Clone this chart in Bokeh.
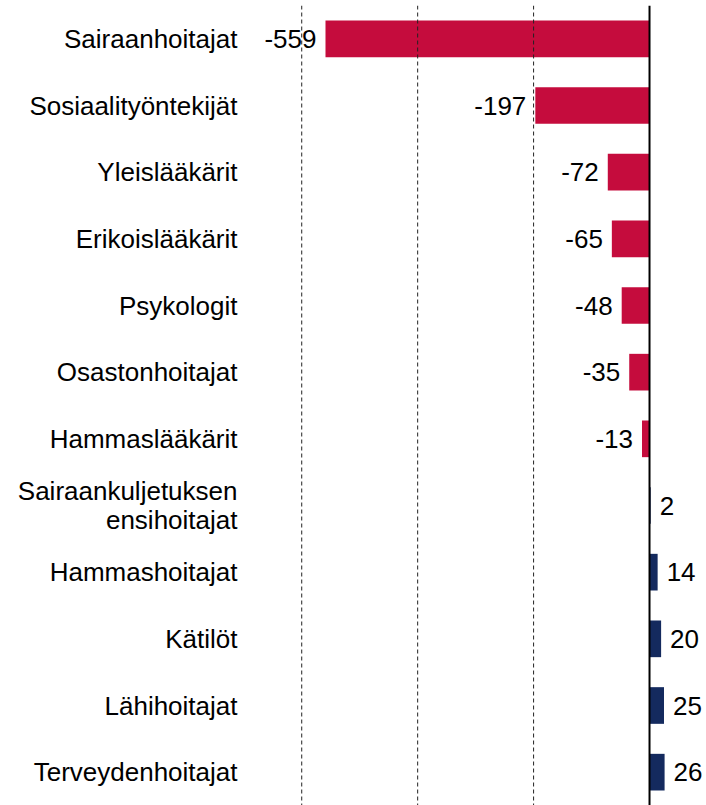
from bokeh.plotting import figure
from bokeh.models import ColumnDataSource, Span
from bokeh.core.properties import value
from bokeh.embed import file_html
from bokeh.resources import INLINE

categories = ["Sairaanhoitajat", "Sosiaalityöntekijät", "Yleislääkärit", "Erikoislääkärit",
              "Psykologit", "Osastonhoitajat", "Hammaslääkärit",
              "Sairaankuljetuksen\nensihoitajat", "Hammashoitajat", "Kätilöt",
              "Lähihoitajat", "Terveydenhoitajat"]
values = [-559, -197, -72, -65, -48, -35, -13, 2, 14, 20, 25, 26]
grid_values = [-600, -400, -200]

RED = "#C50C3D"
NAVY = "#142A5E"
FONT = "Liberation Sans"

colors = [RED if v < 0 else NAVY for v in values]
labels = [str(v) for v in values]
y_order = list(reversed(categories))

neg = [i for i, v in enumerate(values) if v < 0]
pos = [i for i, v in enumerate(values) if v >= 0]
src = ColumnDataSource(dict(cat=categories, val=values, color=colors, label=labels))
src_neg = ColumnDataSource(dict(cat=[categories[i] for i in neg], val=[values[i] for i in neg],
                                label=[labels[i] for i in neg]))
src_pos = ColumnDataSource(dict(cat=[categories[i] for i in pos], val=[values[i] for i in pos],
                                label=[labels[i] for i in pos]))

p = figure(y_range=y_order, x_range=(-697, 98.3), width=706, height=805,
           output_backend="svg", toolbar_location=None,
           min_border_left=245, min_border_right=0, min_border_top=5, min_border_bottom=0)
p.outline_line_color = None
p.background_fill_color = "white"
p.border_fill_color = "white"
p.xgrid.visible = False
p.ygrid.visible = False
p.xaxis.visible = False

for g in grid_values:
    p.add_layout(Span(location=g, dimension="height", line_color="#222222",
                      line_width=1, line_dash="4 3"))

p.hbar(y="cat", left=0, right="val", height=0.55, color="color", source=src, line_color=None)

p.add_layout(Span(location=0, dimension="height", line_color="black", line_width=2))

p.text(x="val", y="cat", text="label", source=src_neg, x_offset=-9,
       text_align="right", text_baseline="middle", text_font=value(FONT),
       text_font_size="26px", text_color="black")
p.text(x="val", y="cat", text="label", source=src_pos, x_offset=9,
       text_align="left", text_baseline="middle", text_font=value(FONT),
       text_font_size="26px", text_color="black")

ya = p.yaxis[0]
ya.axis_line_color = None
ya.major_tick_line_color = None
ya.minor_tick_line_color = None
ya.major_label_text_font = FONT
ya.major_label_text_font_size = "26px"
ya.major_label_text_color = "black"
ya.major_label_text_line_height = 0.95
ya.major_label_standoff = 2

open("out.html", "w").write(file_html(p, INLINE))
